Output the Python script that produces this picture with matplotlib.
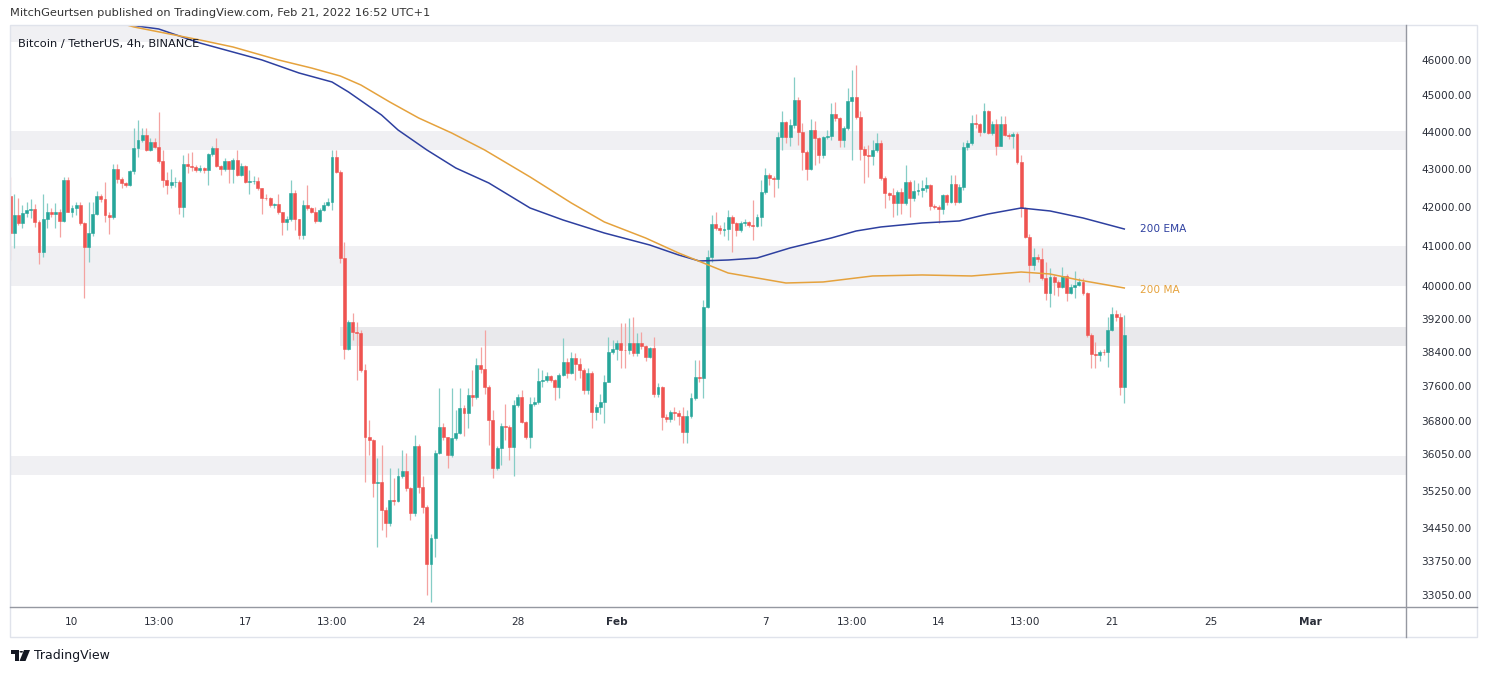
import matplotlib
matplotlib.use("Agg")
import matplotlib.pyplot as plt
import matplotlib.dates as mdates
from matplotlib.ticker import FixedLocator, FixedFormatter, NullLocator
from matplotlib.patches import Rectangle, Polygon, Circle
from matplotlib.lines import Line2D
import pandas as pd

# ---------------- data ----------------
bar_start = "2022-01-07 13:00"
first_open = 42290
closes = [
    41320, 41790, 41580, 41835, 41920, 41950, 41620, 40860, 41690, 41860,
    41810, 41880, 41640, 42705, 41880, 41980, 42050, 41580, 40980, 41320,
    41830, 42290, 42210, 41790, 41750, 42995, 42730, 42620, 42575, 42940,
    43550, 43770, 43910, 43500, 43725, 43590, 43210, 42705, 42575, 42640,
    42660, 42005, 43120, 43080, 43060, 42970, 43015, 42980, 43390, 43550,
    43080, 42995, 43210, 42995, 43235, 42840, 43075, 42660, 42670, 42680,
    42485, 42240, 42225, 42050, 42070, 41860, 41600, 41700, 42360, 41700,
    41280, 42050, 41960, 41880, 41640, 41920, 42050, 42140, 43320, 42925,
    40690, 38465, 39130, 38890, 38850, 37980, 36450, 36370, 35410, 35440,
    34830, 34550, 35060, 35035, 35570, 35690, 35300, 34770, 36240, 35340,
    34905, 33690, 34230, 36090, 36670, 36430, 36040, 36410, 36540, 37090,
    36980, 37400, 37340, 38100, 37995, 37590, 36820, 35740, 36190, 36690,
    36660, 36210, 37170, 37360, 36790, 36450, 37190, 37240, 37730, 37745,
    37840, 37745, 37575, 37860, 38175, 37910, 38255, 38125, 37980, 37510,
    37900, 37010, 37120, 37235, 37705, 38410, 38465, 38610, 38450, 38440,
    38620, 38370, 38620, 38540, 38290, 38490, 37430, 37575, 36900, 36840,
    37010, 36990, 36910, 36560, 36910, 37320, 37820, 37780, 39490, 40730,
    41560, 41450, 41410, 41430, 41750, 41580, 41410, 41580, 41620, 41535,
    41520, 41750, 42400, 42840, 42750, 42720, 43860, 44270, 43860, 44180,
    44870, 43995, 43460, 42990, 44045, 43820, 43370, 43845, 43880, 44490,
    44370, 43770, 44090, 44850, 44950, 44400, 43520, 43370, 43350, 43500,
    43680, 42750, 42370, 42310, 42095, 42400, 42110, 42660, 42225, 42420,
    42440, 42485, 42575, 42025, 42010, 41940, 42310, 42140, 42600, 42140,
    42530, 43570, 43680, 44245, 44205, 43995, 44570, 43970, 44205, 43615,
    44205, 43910, 43880, 43940, 43170, 41965, 41240, 40520, 40710, 40665,
    40190, 39835, 40230, 40105, 39985, 40250, 39835, 39985, 40025, 40105,
    39820, 38810, 38350, 38330, 38410, 38400, 38930, 39310, 39250, 37590,
    38810,
]
highs = [
    42790, 42330, 42240, 42050, 42140, 42210, 42070, 41660, 42330, 42090,
    41970, 42090, 41950, 42790, 42790, 42050, 42140, 42140, 41620, 42140,
    42140, 42415, 42330, 42640, 41880, 43120, 43120, 42790, 42640, 42970,
    44090, 44320, 44090, 44090, 43820, 43820, 44530, 43500, 42920, 42995,
    42790, 42700, 43370, 43410, 43450, 43100, 43100, 43060, 43410, 43600,
    43820, 43100, 43280, 43210, 43280, 43500, 43150, 43100, 42970, 42800,
    42780, 42485, 42330, 42260, 42110, 42330, 41860, 41760, 42705, 42440,
    41700, 42180, 42575, 42000, 42010, 41960, 42140, 42225, 43500, 43500,
    42960, 41110, 39170, 39330, 39130, 38930, 38120, 36820, 36400, 35960,
    36260, 34900, 35740, 35520, 35740, 36150, 36080, 35330, 36490, 36280,
    35570, 34950, 34330, 36150, 37550, 36750, 36450, 37550, 37050, 37550,
    37170, 37550, 37980, 38255, 38530, 38930, 37620, 37050, 36230, 36760,
    37200, 36700, 37280, 37430, 37510, 36800, 37350, 37350, 38020, 37980,
    37940, 37860, 37760, 37900, 38730, 38255, 38400, 38380, 38250, 38020,
    38020, 37960, 37180, 37430, 37860, 38770, 38690, 38690, 39090, 39090,
    39220, 39250, 38860, 38890, 38560, 38530, 38770, 37680, 37600, 36950,
    37050, 37120, 37050, 37120, 37050, 37450, 38210, 38210, 39660, 40900,
    41790, 41880, 41540, 41600, 41920, 41790, 41600, 41650, 41700, 41650,
    42180, 41830, 42705, 43015, 42900, 42800, 43995, 44550, 44300, 44350,
    45510, 44950, 44230, 43500, 44350, 44300, 43850, 43880, 44040, 44780,
    44820, 44400, 44150, 45200, 45705, 45850, 44560, 43600, 43640, 43770,
    43950, 43770, 42800, 42400, 42500, 42450, 42500, 43100, 42705, 42705,
    42620, 42705, 42790, 42600, 42080, 42050, 42350, 42330, 42840, 42840,
    42600, 43720, 43770, 44440, 44470, 44230, 44780, 44600, 44300, 44330,
    44420, 44420, 43950, 44000, 44000, 43370, 41990, 41300, 40940, 40800,
    40940, 40600, 40440, 40270, 40150, 40460, 40300, 40050, 40360, 40200,
    40200, 39850, 38850, 38650, 38450, 38480, 39250, 39490, 39400, 39350,
    39290,
]
lows = [
    40650, 40940, 41540, 41460, 41750, 41710, 41490, 40540, 40730, 41450,
    41750, 41470, 41240, 41620, 41860, 41750, 41780, 41540, 39700, 40600,
    41260, 41780, 42140, 41620, 41300, 41700, 42620, 42490, 42510, 42540,
    42860, 43320, 43720, 43480, 43480, 43560, 43150, 42530, 42330, 42490,
    42520, 41830, 41750, 42900, 42950, 42920, 42920, 42900, 42575, 43350,
    43050, 42840, 42950, 42620, 42620, 42800, 42800, 42620, 42330, 42600,
    42450, 41830, 42180, 42000, 41980, 41830, 41280, 41410, 41650, 41410,
    41170, 41170, 41920, 41840, 41580, 41600, 41900, 42020, 41920, 42880,
    40560, 38230, 38440, 38690, 37745, 37930, 35450, 36040, 35120, 34040,
    34400, 34265, 34500, 34940, 35000, 35530, 35250, 34620, 34700, 35200,
    34760, 33050, 32920, 33840, 36050, 36380, 35740, 36000, 36380, 36500,
    36460, 36640, 37150, 37300, 37900, 37430, 36260, 35520, 35705, 35810,
    36370, 35930, 35570, 37120, 36750, 36400, 36190, 37150, 37200, 37580,
    37700, 37700, 37280, 37320, 37830, 37800, 37880, 37745, 37800, 37430,
    37430, 36640, 36820, 36950, 36750, 37690, 38350, 38210, 38020, 38020,
    38350, 38320, 38300, 38480, 38200, 38255, 37350, 37350, 36600, 36780,
    36780, 36820, 36700, 36300, 36300, 36880, 37280, 37690, 37320, 39450,
    40600, 41410, 41300, 41260, 41150, 40860, 41260, 41350, 41500, 41480,
    41150, 41480, 41510, 42350, 42575, 42270, 42490, 43500, 43700, 43600,
    44100, 43640, 42970, 42705, 42960, 43100, 43150, 43300, 43800, 43780,
    44300, 43570, 43570, 44050, 43235, 44350, 43235, 42620, 42790, 43100,
    43450, 42700, 41965, 42180, 41750, 41800, 41830, 42050, 41730, 42150,
    42300, 42270, 42400, 41930, 41950, 41580, 41830, 42050, 42100, 42050,
    42100, 42450, 43500, 43640, 44090, 43890, 43950, 43930, 43900, 43380,
    43600, 43880, 43800, 43560, 43120, 41730, 41200, 40105, 40400, 40600,
    40150, 39660, 39480, 39780, 39750, 39960, 39620, 39800, 39700, 40000,
    39780, 38760, 38020, 38020, 38200, 38330, 38060, 38900, 39150, 37400,
    37220,
]

# 200 EMA and 200 MA (bar index -> value)
ema_bars = [22, 29, 36, 46, 61, 70, 78, 82, 90, 94, 101, 108, 116, 126, 134, 144,
            155, 162, 167, 174, 181, 189, 199, 205, 211, 221, 230, 237, 245, 252, 260, 270]
ema_vals = [47200, 46990, 46877, 46473, 45990, 45621, 45368, 45089, 44453, 44044,
            43503, 43022, 42626, 41973, 41663, 41330, 41025, 40773, 40622, 40647,
            40697, 40950, 41203, 41381, 41484, 41586, 41638, 41818, 41973, 41896,
            41715, 41432]
ma_bars = [24, 30, 46, 54, 65, 73, 80, 85, 92, 99, 107, 115, 126, 136, 144, 154,
           162, 168, 174, 181, 188, 197, 209, 221, 233, 245, 252, 259, 270]
ma_vals = [47138, 46935, 46560, 46359, 45990, 45762, 45536, 45284, 44811, 44371,
           43962, 43503, 42785, 42103, 41612, 41203, 40823, 40572, 40322, 40198,
           40074, 40099, 40248, 40273, 40248, 40347, 40297, 40148, 39951]

# horizontal zones (low, high, start time or None = from left edge)
zone_lows = [46500, 43500, 40000, 38550, 35600]
zone_highs = [47600, 44020, 41000, 39000, 36010]
zone_starts = [None, None, None, "2022-01-20 21:00", None]
zone_colors = ["#F0F0F3", "#F0F0F3", "#F0F0F3", "#E9E9EC", "#F0F0F3"]

ytick_vals = [46000, 45000, 44000, 43000, 42000, 41000, 40000, 39200, 38400,
              37600, 36800, 36050, 35250, 34450, 33750, 33050]
xtick_times = ["2022-01-10 01:00", "2022-01-13 13:00", "2022-01-17 01:00",
               "2022-01-20 13:00", "2022-01-24 01:00", "2022-01-28 01:00",
               "2022-02-01 01:00", "2022-02-07 01:00", "2022-02-10 13:00",
               "2022-02-14 01:00", "2022-02-17 13:00", "2022-02-21 01:00",
               "2022-02-25 01:00", "2022-03-01 01:00"]
xtick_labels = ["10", "13:00", "17", "13:00", "24", "28", "Feb", "7", "13:00",
                "14", "13:00", "21", "25", "Mar"]

# ---------------- figure ----------------
W, H = 1488, 673
fig = plt.figure(figsize=(W / 100, H / 100), dpi=100)
fig.patch.set_facecolor("white")
plt.rcParams["font.family"] = ["DejaVu Sans"]


def fx(x):
    return x / W


def fy(y):
    return 1 - y / H


ax = fig.add_axes([fx(10), fy(607), (1406 - 10) / W, (607 - 25) / H])
ax.set_facecolor("white")

times = pd.date_range(bar_start, periods=len(closes), freq="4h")
xs = mdates.date2num(times.to_pydatetime())
opens = [first_open] + closes[:-1]

t0 = xs[0]
px_per_day = 24.76
ax.set_xlim(t0 - 0.1 / px_per_day, t0 + (1406 - 10.1) / px_per_day)
ax.set_yscale("log")
ax.set_ylim(32810, 46992)

# zones
x_left, x_right = ax.get_xlim()
for lo, hi, st, col in zip(zone_lows, zone_highs, zone_starts, zone_colors):
    xs0 = x_left - 1 if st is None else mdates.date2num(pd.Timestamp(st).to_pydatetime())
    ax.add_patch(Rectangle((xs0, lo), x_right + 1 - xs0, hi - lo, facecolor=col,
                           edgecolor="none", zorder=0))

up_col, dn_col = "#26A69A", "#EF5350"
up_wick, dn_wick = "#86CDC6", "#F4A3A1"
body_cols, wick_cols, bottoms, heights = [], [], [], []
for o, c in zip(opens, closes):
    up = c >= o
    body_cols.append(up_col if up else dn_col)
    wick_cols.append(up_wick if up else dn_wick)
    bottoms.append(min(o, c))
    heights.append(abs(c - o))

ax.vlines(xs, lows, highs, colors=wick_cols, linewidth=0.9, zorder=2)
ax.bar(xs, heights, bottom=bottoms, width=0.118, color=body_cols,
       edgecolor=body_cols, linewidth=0.4, zorder=3, align="center")

# moving averages
ema_x = xs[0] + (pd.Series(ema_bars).values) * (4 / 24)
ma_x = xs[0] + (pd.Series(ma_bars).values) * (4 / 24)
ax.plot(ema_x, ema_vals, color="#2E40A0", linewidth=1.1, zorder=4)
ax.plot(ma_x, ma_vals, color="#E5A23D", linewidth=1.1, zorder=4)

# axes styling
for s in ["top", "left", "right", "bottom"]:
    ax.spines[s].set_visible(False)
ax.yaxis.tick_right()
ax.yaxis.set_major_locator(FixedLocator(ytick_vals))
ax.yaxis.set_major_formatter(FixedFormatter([f"{v:.2f}" for v in ytick_vals]))
ax.yaxis.set_minor_locator(NullLocator())
ax.tick_params(axis="y", which="both", length=0, pad=11, labelsize=7.6,
               labelcolor="#2A2E39", right=False, left=False)

xt = mdates.date2num(pd.to_datetime(xtick_times).to_pydatetime())
ax.xaxis.set_major_locator(FixedLocator(xt))
ax.xaxis.set_major_formatter(FixedFormatter(xtick_labels))
ax.xaxis.set_minor_locator(NullLocator())
ax.tick_params(axis="x", length=0, pad=7, labelsize=7.6, labelcolor="#2A2E39")
for lab in ax.get_xticklabels():
    if lab.get_text() in ("Feb", "Mar"):
        lab.set_fontweight("bold")

# frame lines
fig.add_artist(Rectangle((fx(10), fy(637)), (1477 - 10) / W, (637 - 25) / H,
                         transform=fig.transFigure, fill=False,
                         edgecolor="#E0E3EB", linewidth=1.0))
fig.add_artist(Line2D([fx(1406), fx(1406)], [fy(25), fy(637)],
                      transform=fig.transFigure, color="#9598A1", linewidth=1.0))
fig.add_artist(Line2D([fx(10), fx(1477)], [fy(607), fy(607)],
                      transform=fig.transFigure, color="#9598A1", linewidth=1.0))

# texts
fig.text(fx(10), fy(13), "MitchGeurtsen published on TradingView.com, Feb 21, 2022 16:52 UTC+1",
         ha="left", va="center", fontsize=8.2, color="#333333")
fig.text(fx(18), fy(44), "Bitcoin / TetherUS, 4h, BINANCE",
         ha="left", va="center", fontsize=8.2, color="#131722")
fig.text(fx(1140), fy(229), "200 EMA", ha="left", va="center", fontsize=7.6, color="#2E40A0")
fig.text(fx(1140), fy(290), "200 MA", ha="left", va="center", fontsize=7.6, color="#E5A23D")

# TradingView logo
logo_col = "#131722"
fig.add_artist(Polygon([(fx(11), fy(650)), (fx(18.5), fy(650)), (fx(18.5), fy(661)),
                        (fx(15), fy(661)), (fx(15), fy(653.5)), (fx(11), fy(653.5))],
                       closed=True, transform=fig.transFigure, facecolor=logo_col,
                       edgecolor="none"))
fig.add_artist(Polygon([(fx(24), fy(650)), (fx(30), fy(650)), (fx(25.5), fy(661)),
                        (fx(19.5), fy(661))], closed=True, transform=fig.transFigure,
                       facecolor=logo_col, edgecolor="none"))
fig.add_artist(Circle((fx(21.3), fy(651.8)), 1.8 / W, transform=fig.transFigure,
                      facecolor=logo_col, edgecolor="none"))
fig.text(fx(34), fy(656), "TradingView", ha="left", va="center", fontsize=9,
         color=logo_col)

fig.savefig("out.png", dpi=100, facecolor="white")
